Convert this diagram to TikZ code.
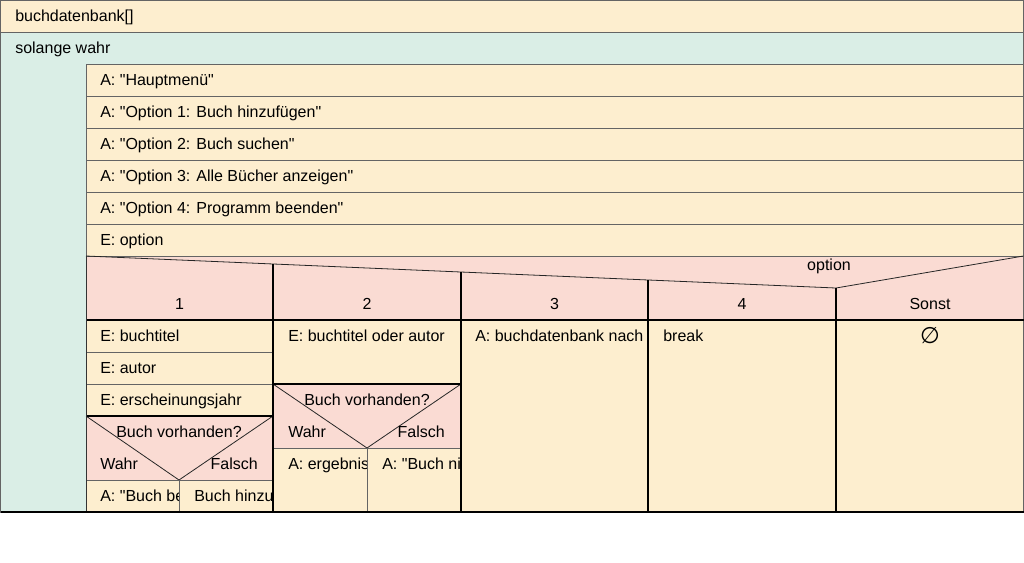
\documentclass[tikz,border=0pt]{standalone}
\usepackage{fontspec}
\setmainfont{Liberation Sans}[Ligatures=TeXOff]
\newfontfamily\symfont{DejaVu Sans}
\usepackage{tikz}
\usetikzlibrary{positioning}
\definecolor{creamfill}{RGB}{253,238,207}
\definecolor{mintfill}{RGB}{218,238,230}
\definecolor{pinkfill}{RGB}{250,219,211}
\definecolor{linegray}{RGB}{100,100,100}

\begin{document}
\begin{tikzpicture}[x=0.75pt, y=-0.75pt,
  cell/.style={fill=creamfill, draw=linegray, line width=0.6pt},
  loopbox/.style={fill=mintfill, draw=linegray, line width=0.6pt},
  head/.style={fill=pinkfill, draw=linegray, line width=0.6pt},
  sep/.style={draw=black, line width=0.9pt},
  diag/.style={draw=black!85, line width=0.6pt},
  txt/.style={anchor=base west, inner sep=0pt, font=\fontsize{12}{13}\selectfont},
  ctr/.style={anchor=base, inner sep=0pt, font=\fontsize{12}{13}\selectfont},
  rtxt/.style={anchor=base east, inner sep=0pt, font=\fontsize{12}{13}\selectfont}
]
\useasboundingbox (0,0) rectangle (1024,562);
\fill[white] (0,0) rectangle (1024,562);

% declaration and loop
\path[cell] (0.5,0.5) rectangle (1023.5,32);
\node[txt] (db) at (15,21.5) {buchdatenbank[]};
\path[loopbox] (0.5,32) rectangle (1023.5,512);
\node[txt] (loop) at (15,53.5) {solange wahr};

% menu output
\path[cell] (86,64) rectangle (1023.5,96);
\node[txt] (m1) at (100,85.5) {A: "Hauptmenü"};
\path[cell] (86,96) rectangle (1023.5,128);
\node[txt] (m2) at (100,117.5) {A: "Option 1: Buch hinzufügen"};
\path[cell] (86,128) rectangle (1023.5,160);
\node[txt] (m3) at (100,149.5) {A: "Option 2: Buch suchen"};
\path[cell] (86,160) rectangle (1023.5,192);
\node[txt] (m4) at (100,181.5) {A: "Option 3: Alle Bücher anzeigen"};
\path[cell] (86,192) rectangle (1023.5,224);
\node[txt] (m5) at (100,213.5) {A: "Option 4: Programm beenden"};
\path[cell] (86,224) rectangle (1023.5,256);
\node[txt] (m6) at (100,245.5) {E: option};

% case head
\path[head] (86,256) rectangle (1023.5,320);
\draw[diag] (86,256) -- (836,288) -- (1023.5,256);
\node[ctr] (sel) at (829,270) {option};
\node[ctr] (k1) at (179.5,309.5) {1};
\node[ctr] (k2) at (367,309.5) {2};
\node[ctr] (k3) at (554.5,309.5) {3};
\node[ctr] (k4) at (742,309.5) {4};
\node[ctr] (k5) at (930,309.5) {Sonst};

% case 1
\path[cell] (86,320) rectangle (273,352);
\node[txt] (a1) at (100,341.5) {E: buchtitel};
\path[cell] (86,352) rectangle (273,384);
\node[txt] (a2) at (100,373.5) {E: autor};
\path[cell] (86,384) rectangle (273,416);
\node[txt] (a3) at (100,405.5) {E: erscheinungsjahr};
\path[head] (86,416) rectangle (273,480);
\draw[diag] (86,416) -- (179,480) -- (273,416);
\draw[sep] (86,416) -- (273,416);
\node[ctr] (q1) at (179,437) {Buch vorhanden?};
\node[txt] (w1) at (100,469.5) {Wahr};
\node[rtxt] (f1) at (258,469.5) {Falsch};
\path[cell] (86,480) rectangle (179,512);
\path[cell] (179,480) rectangle (273,512);
\begin{scope}
  \clip (86,480) rectangle (178.5,512);
  \node[txt] (t1) at (100,501.5) {A: "Buch be};
\end{scope}
\begin{scope}
  \clip (179.5,480) rectangle (272.5,512);
  \node[txt] (e1) at (194,501.5) {Buch hinzu};
\end{scope}

% case 2
\path[cell] (273,320) rectangle (461,384);
\node[txt] (b1) at (288,341.5) {E: buchtitel oder autor};
\path[head] (273,384) rectangle (461,448);
\draw[diag] (273,384) -- (367,448) -- (461,384);
\draw[sep] (273,384) -- (461,384);
\node[ctr] (q2) at (367,405) {Buch vorhanden?};
\node[txt] (w2) at (288,437.5) {Wahr};
\node[rtxt] (f2) at (445,437.5) {Falsch};
\path[cell] (273,448) rectangle (367,512);
\path[cell] (367,448) rectangle (461,512);
\begin{scope}
  \clip (273.5,448) rectangle (366.5,512);
  \node[txt] (t2) at (288,469.5) {A: ergebnis};
\end{scope}
\begin{scope}
  \clip (367.5,448) rectangle (460.5,512);
  \node[txt] (e2) at (382,469.5) {A: "Buch ni};
\end{scope}

% case 3, 4, sonst
\path[cell] (461,320) rectangle (648,512);
\begin{scope}
  \clip (461.5,320) rectangle (647.5,512);
  \node[txt] (c3) at (475,341.5) {A: buchdatenbank nach};
\end{scope}
\path[cell] (648,320) rectangle (836,512);
\node[txt] (c4) at (663,341.5) {break};
\path[cell] (836,320) rectangle (1023.5,512);
\node[inner sep=0pt, font=\symfont\fontsize{17}{18}\selectfont] (c5) at (930,336) {∅};

% case borders
\draw[sep] (86,320) -- (1023.5,320);
\draw[sep] (273,264) -- (273,512);
\draw[sep] (461,272) -- (461,512);
\draw[sep] (648,280) -- (648,512);
\draw[sep] (836,288) -- (836,512);
\draw[draw=black!80, line width=0.7pt] (86,256) -- (86,512);
\draw[sep] (0.5,512) -- (1023.5,512);
\end{tikzpicture}
\end{document}
